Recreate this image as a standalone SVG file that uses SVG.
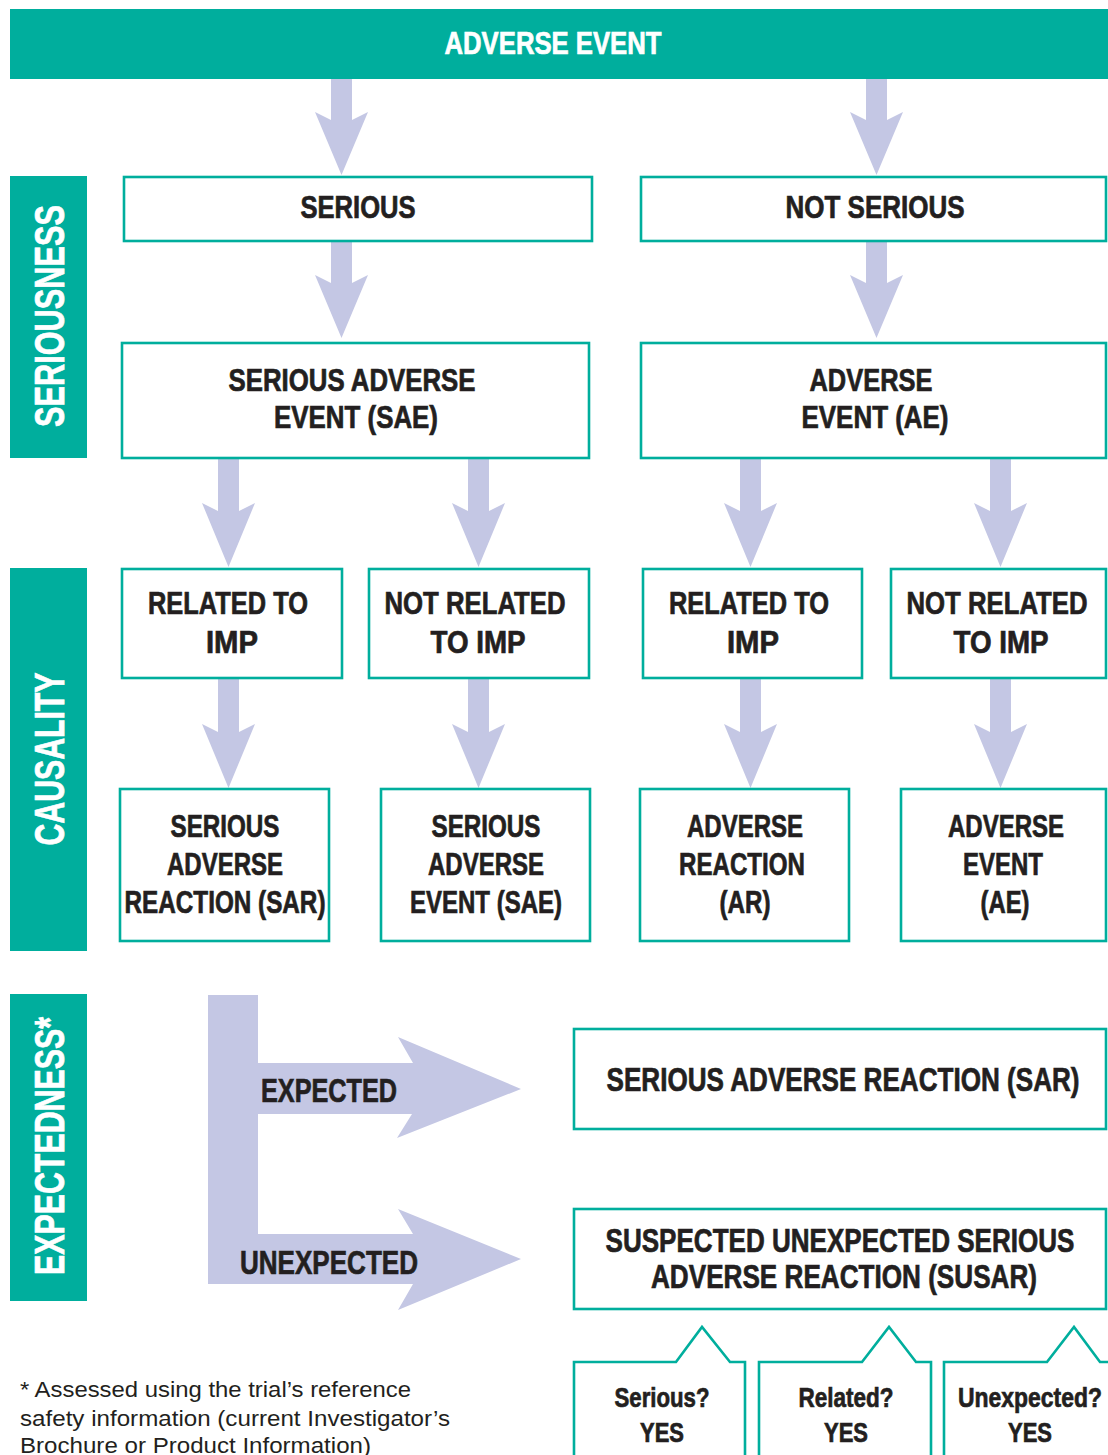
<svg xmlns="http://www.w3.org/2000/svg" width="1108" height="1455" viewBox="0 0 1108 1455">
<style>
.bar{fill:#00AE9D}
.box{fill:#fff;stroke:#00AE9D;stroke-width:2.6}
.call{fill:#fff;stroke:#00AE9D;stroke-width:2.6;stroke-linejoin:miter}
.arr{fill:#C4C7E4}
.t{font-family:"Liberation Sans Narrow","Liberation Sans",Arial,sans-serif;font-weight:bold;fill:#231F20;stroke:#231F20;stroke-width:0.7;text-anchor:middle}
.w{fill:#fff;stroke:#fff}
.fn{font-family:"Liberation Sans",Arial,sans-serif;font-size:21.5px;fill:#231F20}
</style>
<rect width="1108" height="1455" fill="#fff"/>

<g id="header">
<rect class="bar" x="10" y="9" width="1098" height="70"/>
<text class="t w" x="553" y="54" font-size="31" textLength="217" lengthAdjust="spacingAndGlyphs">ADVERSE EVENT</text>
</g>

<g id="label-seriousness">
<rect class="bar" x="10" y="176" width="77" height="282"/>
<text class="t w" transform="translate(64,316) rotate(-90)" font-size="42" textLength="222" lengthAdjust="spacingAndGlyphs">SERIOUSNESS</text>
</g>
<g id="label-causality">
<rect class="bar" x="10" y="568" width="77" height="383"/>
<text class="t w" transform="translate(64,759) rotate(-90)" font-size="42" textLength="173" lengthAdjust="spacingAndGlyphs">CAUSALITY</text>
</g>
<g id="label-expectedness">
<rect class="bar" x="10" y="994" width="77" height="307"/>
<text class="t w" transform="translate(64,1146) rotate(-90)" font-size="42" textLength="258" lengthAdjust="spacingAndGlyphs">EXPECTEDNESS*</text>
</g>

<g id="connectors">
<path class="arr" d="M331,79 V120 L315,112 L341.5,175 L368,112 L352,120 V79 Z"/>
<path class="arr" d="M866,79 V120 L850,112 L876.5,175 L903,112 L887,120 V79 Z"/>
<path class="arr" d="M331,241 V283 L315,275 L341.5,338 L368,275 L352,283 V241 Z"/>
<path class="arr" d="M866,241 V283 L850,275 L876.5,338 L903,275 L887,283 V241 Z"/>
<path class="arr" d="M218,458 V511 L202,503 L228.5,567 L255,503 L239,511 V458 Z"/>
<path class="arr" d="M468,458 V511 L452,503 L478.5,567 L505,503 L489,511 V458 Z"/>
<path class="arr" d="M740,458 V511 L724,503 L750.5,567 L777,503 L761,511 V458 Z"/>
<path class="arr" d="M990,458 V511 L974,503 L1000.5,567 L1027,503 L1011,511 V458 Z"/>
<path class="arr" d="M218,678 V732 L202,724 L228.5,788 L255,724 L239,732 V678 Z"/>
<path class="arr" d="M468,678 V732 L452,724 L478.5,788 L505,724 L489,732 V678 Z"/>
<path class="arr" d="M740,678 V732 L724,724 L750.5,788 L777,724 L761,732 V678 Z"/>
<path class="arr" d="M990,678 V732 L974,724 L1000.5,788 L1027,724 L1011,732 V678 Z"/>
<path class="arr" d="M208,995 H258 V1063 H413 L398,1037 L521,1089 L397,1138 L412,1114 H258 V1234 H413 L398,1209 L521,1259 L398,1310 L413,1284 H208 Z"/>
</g>
<text class="t" x="329" y="1102" font-size="33" textLength="136" lengthAdjust="spacingAndGlyphs">EXPECTED</text>
<text class="t" x="329" y="1274" font-size="33" textLength="178" lengthAdjust="spacingAndGlyphs">UNEXPECTED</text>

<g id="serious">
<rect class="box" x="124" y="177" width="468" height="64"/>
<text class="t" x="358" y="218" font-size="31" textLength="115" lengthAdjust="spacingAndGlyphs">SERIOUS</text>
</g>
<g id="not-serious">
<rect class="box" x="641" y="177" width="465" height="64"/>
<text class="t" x="875" y="218" font-size="31" textLength="179" lengthAdjust="spacingAndGlyphs">NOT SERIOUS</text>
</g>

<g id="sae">
<rect class="box" x="122" y="343" width="467" height="115"/>
<text class="t" x="352" y="391" font-size="31" textLength="247" lengthAdjust="spacingAndGlyphs">SERIOUS ADVERSE</text>
<text class="t" x="356" y="428" font-size="31" textLength="164" lengthAdjust="spacingAndGlyphs">EVENT (SAE)</text>
</g>
<g id="ae">
<rect class="box" x="641" y="343" width="465" height="115"/>
<text class="t" x="871" y="391" font-size="31" textLength="123" lengthAdjust="spacingAndGlyphs">ADVERSE</text>
<text class="t" x="875" y="428" font-size="31" textLength="147" lengthAdjust="spacingAndGlyphs">EVENT (AE)</text>
</g>

<g id="related-1">
<rect class="box" x="122" y="569" width="220" height="109"/>
<text class="t" x="228" y="614" font-size="31" textLength="160" lengthAdjust="spacingAndGlyphs">RELATED TO</text>
<text class="t" x="232" y="653" font-size="31" textLength="52" lengthAdjust="spacingAndGlyphs">IMP</text>
</g>
<g id="not-related-1">
<rect class="box" x="369" y="569" width="220" height="109"/>
<text class="t" x="475" y="614" font-size="31" textLength="181" lengthAdjust="spacingAndGlyphs">NOT RELATED</text>
<text class="t" x="478" y="653" font-size="31" textLength="95" lengthAdjust="spacingAndGlyphs">TO IMP</text>
</g>
<g id="related-2">
<rect class="box" x="643" y="569" width="219" height="109"/>
<text class="t" x="749" y="614" font-size="31" textLength="160" lengthAdjust="spacingAndGlyphs">RELATED TO</text>
<text class="t" x="753" y="653" font-size="31" textLength="52" lengthAdjust="spacingAndGlyphs">IMP</text>
</g>
<g id="not-related-2">
<rect class="box" x="891" y="569" width="215" height="109"/>
<text class="t" x="997" y="614" font-size="31" textLength="181" lengthAdjust="spacingAndGlyphs">NOT RELATED</text>
<text class="t" x="1001" y="653" font-size="31" textLength="95" lengthAdjust="spacingAndGlyphs">TO IMP</text>
</g>

<g id="sar">
<rect class="box" x="120" y="789" width="209" height="152"/>
<text class="t" x="225" y="837" font-size="31" textLength="109" lengthAdjust="spacingAndGlyphs">SERIOUS</text>
<text class="t" x="225" y="875" font-size="31" textLength="116" lengthAdjust="spacingAndGlyphs">ADVERSE</text>
<text class="t" x="225" y="913" font-size="31" textLength="201" lengthAdjust="spacingAndGlyphs">REACTION (SAR)</text>
</g>
<g id="sae-2">
<rect class="box" x="381" y="789" width="209" height="152"/>
<text class="t" x="486" y="837" font-size="31" textLength="109" lengthAdjust="spacingAndGlyphs">SERIOUS</text>
<text class="t" x="486" y="875" font-size="31" textLength="116" lengthAdjust="spacingAndGlyphs">ADVERSE</text>
<text class="t" x="486" y="913" font-size="31" textLength="152" lengthAdjust="spacingAndGlyphs">EVENT (SAE)</text>
</g>
<g id="ar">
<rect class="box" x="640" y="789" width="209" height="152"/>
<text class="t" x="745" y="837" font-size="31" textLength="116" lengthAdjust="spacingAndGlyphs">ADVERSE</text>
<text class="t" x="742" y="875" font-size="31" textLength="126" lengthAdjust="spacingAndGlyphs">REACTION</text>
<text class="t" x="745" y="913" font-size="31" textLength="51" lengthAdjust="spacingAndGlyphs">(AR)</text>
</g>
<g id="ae-2">
<rect class="box" x="901" y="789" width="205" height="152"/>
<text class="t" x="1006" y="837" font-size="31" textLength="116" lengthAdjust="spacingAndGlyphs">ADVERSE</text>
<text class="t" x="1003" y="875" font-size="31" textLength="80" lengthAdjust="spacingAndGlyphs">EVENT</text>
<text class="t" x="1005" y="913" font-size="31" textLength="49" lengthAdjust="spacingAndGlyphs">(AE)</text>
</g>

<g id="sar-expected">
<rect class="box" x="574" y="1029" width="532" height="100"/>
<text class="t" x="843" y="1091" font-size="33" textLength="473" lengthAdjust="spacingAndGlyphs">SERIOUS ADVERSE REACTION (SAR)</text>
</g>
<g id="susar">
<rect class="box" x="574" y="1209" width="532" height="100"/>
<text class="t" x="840" y="1252" font-size="33" textLength="469" lengthAdjust="spacingAndGlyphs">SUSPECTED UNEXPECTED SERIOUS</text>
<text class="t" x="844" y="1288" font-size="33" textLength="386" lengthAdjust="spacingAndGlyphs">ADVERSE REACTION (SUSAR)</text>
</g>

<g id="callout-serious">
<path class="call" d="M574,1460 V1362 H676 L702,1327 L730,1362 H745 V1460"/>
<text class="t" x="662" y="1407" font-size="28" textLength="95" lengthAdjust="spacingAndGlyphs">Serious?</text>
<text class="t" x="662" y="1442" font-size="28" textLength="44" lengthAdjust="spacingAndGlyphs">YES</text>
</g>
<g id="callout-related">
<path class="call" d="M759,1460 V1362 H862 L889,1327 L916,1362 H931 V1460"/>
<text class="t" x="846" y="1407" font-size="28" textLength="95" lengthAdjust="spacingAndGlyphs">Related?</text>
<text class="t" x="846" y="1442" font-size="28" textLength="44" lengthAdjust="spacingAndGlyphs">YES</text>
</g>
<g id="callout-unexpected">
<path class="call" d="M944,1460 V1362 H1047 L1074,1327 L1100,1362 H1110"/>
<text class="t" x="1030" y="1407" font-size="28" textLength="144" lengthAdjust="spacingAndGlyphs">Unexpected?</text>
<text class="t" x="1030" y="1442" font-size="28" textLength="44" lengthAdjust="spacingAndGlyphs">YES</text>
</g>

<g id="footnote">
<text class="fn" x="20" y="1397" textLength="391" lengthAdjust="spacingAndGlyphs">* Assessed using the trial’s reference</text>
<text class="fn" x="20" y="1426" textLength="430" lengthAdjust="spacingAndGlyphs">safety information (current Investigator’s</text>
<text class="fn" x="20" y="1453" textLength="351" lengthAdjust="spacingAndGlyphs">Brochure or Product Information)</text>
</g>
</svg>
